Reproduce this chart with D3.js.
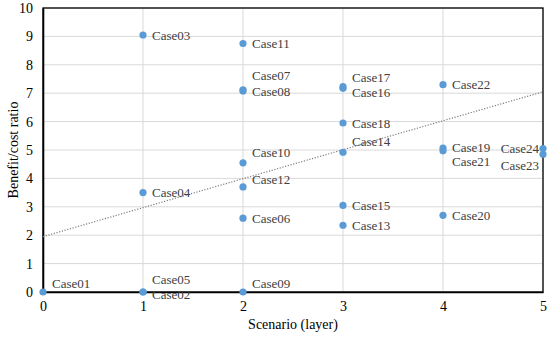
<!DOCTYPE html>
<html>
<head>
<meta charset="utf-8">
<script src="https://cdn.jsdelivr.net/npm/d3@7"></script>
<style>
  body { margin: 0; background: #fff; }
</style>
</head>
<body>
<div id="chart"></div>
<script>
// case names, scenario (x) and benefit/cost ratio (y)
var caseNames = ["Case01", "Case02", "Case03", "Case04", "Case05", "Case06", "Case07", "Case08",
    "Case09", "Case10", "Case11", "Case12", "Case13", "Case14", "Case15", "Case16",
    "Case17", "Case18", "Case19", "Case20", "Case21", "Case22", "Case23", "Case24"];
var scenario = [0, 1, 1, 1, 1, 2, 2, 2, 2, 2, 2, 2, 3, 3, 3, 3, 3, 3, 4, 4, 4, 4, 5, 5];
var ratio = [0, 0, 9.05, 3.5, 0, 2.6, 7.12, 7.08, 0, 4.55, 8.75, 3.7, 2.35, 4.92, 3.05, 7.17,
    7.23, 5.95, 5.07, 2.7, 4.97, 7.3, 4.85, 5.05];

// dotted trend line end points
var trendX = [0, 5];
var trendY = [1.95, 7.05];

var xTicks = [0, 1, 2, 3, 4, 5];
var yTicks = [0, 1, 2, 3, 4, 5, 6, 7, 8, 9, 10];

// label nudges (dx, dy in px) so they sit like the original
var labelNudge = {
    Case01: [9, -9], Case05: [9, -13], Case02: [9, 2], Case07: [9, -14], Case08: [9, 1],
    Case09: [9, -9], Case10: [9, -10], Case12: [9, -7], Case14: [9, -11], Case16: [9, 4],
    Case17: [9, -9], Case19: [9, -1], Case21: [9, 11], Case24: [-4, 0], Case23: [-4, 11]
};

var serif = "'Liberation Serif', 'Times New Roman', 'DejaVu Serif', serif";

var w = 550, h = 337;
var margin = {top: 8, right: 7, bottom: 45, left: 43};

var svg = d3.select("#chart")
    .append("svg")
    .attr("width", w)
    .attr("height", h)
    .style("font-family", serif);

var x = d3.scaleLinear().domain([0, 5]).range([margin.left, w - margin.right]);
var y = d3.scaleLinear().domain([0, 10]).range([h - margin.bottom, margin.top]);

// gridlines
svg.append("g")
    .selectAll("line")
    .data(yTicks)
    .enter()
    .append("line")
    .attr("x1", x(0)).attr("x2", x(5))
    .attr("y1", function (d) { return y(d); })
    .attr("y2", function (d) { return y(d); })
    .style("stroke", "#d9d9d9")
    .style("stroke-width", 1);

svg.append("g")
    .selectAll("line")
    .data(xTicks)
    .enter()
    .append("line")
    .attr("y1", y(0)).attr("y2", y(10))
    .attr("x1", function (d) { return x(d); })
    .attr("x2", function (d) { return x(d); })
    .style("stroke", "#d9d9d9")
    .style("stroke-width", 1);

// frame
svg.append("rect")
    .attr("x", x(0)).attr("y", y(10))
    .attr("width", x(5) - x(0)).attr("height", y(0) - y(10))
    .style("fill", "none")
    .style("stroke", "#000")
    .style("stroke-width", 1.3);

// axes
var xAxis = svg.append("g")
    .attr("transform", "translate(0," + y(0) + ")")
    .call(d3.axisBottom(x).tickValues(xTicks).tickSize(0).tickPadding(9).tickFormat(d3.format("d")));
var yAxis = svg.append("g")
    .attr("transform", "translate(" + x(0) + ",0)")
    .call(d3.axisLeft(y).tickValues(yTicks).tickSize(0).tickPadding(10).tickFormat(d3.format("d")));
[xAxis, yAxis].forEach(function (a) {
    a.attr("font-family", null).attr("font-size", null);
    a.select(".domain").style("stroke", "#000").style("stroke-width", 1.6);
    a.selectAll("text")
        .style("font-family", serif)
        .style("font-size", "14px")
        .style("fill", "#000");
});

// trend line
var line = d3.line()
    .x(function (d) { return x(d[0]); })
    .y(function (d) { return y(d[1]); });
svg.append("path")
    .datum(d3.zip(trendX, trendY))
    .attr("d", line)
    .style("fill", "none")
    .style("stroke", "#7f7f7f")
    .style("stroke-width", 1.2)
    .style("stroke-dasharray", "1.2,1.6");

var data = caseNames.map(function (n, i) {
    return {name: n, x: scenario[i], y: ratio[i]};
});

// points
svg.append("g")
    .selectAll("circle")
    .data(data)
    .enter()
    .append("circle")
    .attr("cx", function (d) { return x(d.x); })
    .attr("cy", function (d) { return y(d.y); })
    .attr("r", 3.6)
    .style("fill", "#5b9bd5");

// labels
svg.append("g")
    .selectAll("text")
    .data(data)
    .enter()
    .append("text")
    .attr("x", function (d) {
        var n = labelNudge[d.name] || [9, 0];
        return x(d.x) + n[0];
    })
    .attr("y", function (d) {
        var n = labelNudge[d.name] || [9, 0];
        return y(d.y) + n[1];
    })
    .attr("dy", "0.35em")
    .attr("text-anchor", function (d) {
        var n = labelNudge[d.name] || [9, 0];
        return n[0] < 0 ? "end" : "start";
    })
    .style("font-family", serif)
    .style("font-size", "13px")
    .style("fill", "#404040")
    .text(function (d) { return d.name; });

// axis titles
svg.append("text")
    .attr("x", (x(0) + x(5)) / 2)
    .attr("y", h - 8)
    .attr("text-anchor", "middle")
    .style("font-family", serif)
    .style("font-size", "14px")
    .style("fill", "#000")
    .text("Scenario (layer)");

svg.append("text")
    .attr("transform", "translate(13," + ((y(0) + y(10)) / 2) + ") rotate(-90)")
    .attr("dy", "0.35em")
    .attr("text-anchor", "middle")
    .style("font-family", serif)
    .style("font-size", "14px")
    .style("fill", "#000")
    .text("Benefit/cost ratio");
</script>
</body>
</html>
